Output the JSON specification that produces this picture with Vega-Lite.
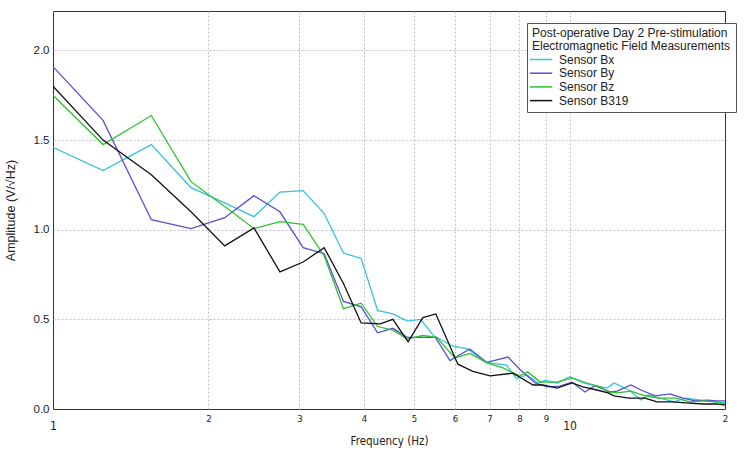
{
  "$schema": "https://vega.github.io/schema/vega-lite/v6.json",
  "width": 672,
  "height": 398,
  "autosize": {"type": "none"},
  "padding": {"left": 53, "top": 11, "right": 25, "bottom": 41},
  "background": "white",
  "config": {
    "font": "Liberation Sans",
    "view": {"stroke": "#333333", "strokeWidth": 1}
  },
  "data": {
    "values": [
      {"sensor": "Sensor Bx", "freq": 1.0, "amp": 1.46},
      {"sensor": "Sensor Bx", "freq": 1.25, "amp": 1.33},
      {"sensor": "Sensor Bx", "freq": 1.55, "amp": 1.475},
      {"sensor": "Sensor Bx", "freq": 1.85, "amp": 1.235},
      {"sensor": "Sensor Bx", "freq": 2.15, "amp": 1.15},
      {"sensor": "Sensor Bx", "freq": 2.45, "amp": 1.073},
      {"sensor": "Sensor Bx", "freq": 2.75, "amp": 1.21},
      {"sensor": "Sensor Bx", "freq": 3.05, "amp": 1.218},
      {"sensor": "Sensor Bx", "freq": 3.35, "amp": 1.09},
      {"sensor": "Sensor Bx", "freq": 3.65, "amp": 0.87},
      {"sensor": "Sensor Bx", "freq": 3.95, "amp": 0.84},
      {"sensor": "Sensor Bx", "freq": 4.25, "amp": 0.55},
      {"sensor": "Sensor Bx", "freq": 4.55, "amp": 0.53},
      {"sensor": "Sensor Bx", "freq": 4.85, "amp": 0.49},
      {"sensor": "Sensor Bx", "freq": 5.15, "amp": 0.5},
      {"sensor": "Sensor Bx", "freq": 5.45, "amp": 0.41},
      {"sensor": "Sensor Bx", "freq": 5.95, "amp": 0.35},
      {"sensor": "Sensor Bx", "freq": 6.35, "amp": 0.335},
      {"sensor": "Sensor Bx", "freq": 6.9, "amp": 0.26},
      {"sensor": "Sensor Bx", "freq": 7.55, "amp": 0.245},
      {"sensor": "Sensor Bx", "freq": 7.9, "amp": 0.17},
      {"sensor": "Sensor Bx", "freq": 8.27, "amp": 0.19},
      {"sensor": "Sensor Bx", "freq": 8.69, "amp": 0.145},
      {"sensor": "Sensor Bx", "freq": 8.97, "amp": 0.16},
      {"sensor": "Sensor Bx", "freq": 9.46, "amp": 0.145},
      {"sensor": "Sensor Bx", "freq": 10.02, "amp": 0.18},
      {"sensor": "Sensor Bx", "freq": 10.62, "amp": 0.145},
      {"sensor": "Sensor Bx", "freq": 11.2, "amp": 0.13},
      {"sensor": "Sensor Bx", "freq": 11.82, "amp": 0.117},
      {"sensor": "Sensor Bx", "freq": 12.19, "amp": 0.145},
      {"sensor": "Sensor Bx", "freq": 13.04, "amp": 0.106},
      {"sensor": "Sensor Bx", "freq": 13.75, "amp": 0.05},
      {"sensor": "Sensor Bx", "freq": 14.19, "amp": 0.078},
      {"sensor": "Sensor Bx", "freq": 14.97, "amp": 0.061},
      {"sensor": "Sensor Bx", "freq": 15.94, "amp": 0.04},
      {"sensor": "Sensor Bx", "freq": 16.81, "amp": 0.061},
      {"sensor": "Sensor Bx", "freq": 17.89, "amp": 0.05},
      {"sensor": "Sensor Bx", "freq": 19.05, "amp": 0.04},
      {"sensor": "Sensor Bx", "freq": 20.0, "amp": 0.034},

      {"sensor": "Sensor By", "freq": 1.0, "amp": 1.91},
      {"sensor": "Sensor By", "freq": 1.25, "amp": 1.61},
      {"sensor": "Sensor By", "freq": 1.55, "amp": 1.056},
      {"sensor": "Sensor By", "freq": 1.85, "amp": 1.006},
      {"sensor": "Sensor By", "freq": 2.15, "amp": 1.067},
      {"sensor": "Sensor By", "freq": 2.45, "amp": 1.19},
      {"sensor": "Sensor By", "freq": 2.75, "amp": 1.1},
      {"sensor": "Sensor By", "freq": 3.05, "amp": 0.9},
      {"sensor": "Sensor By", "freq": 3.35, "amp": 0.866},
      {"sensor": "Sensor By", "freq": 3.65, "amp": 0.6},
      {"sensor": "Sensor By", "freq": 3.95, "amp": 0.57},
      {"sensor": "Sensor By", "freq": 4.25, "amp": 0.425},
      {"sensor": "Sensor By", "freq": 4.55, "amp": 0.45},
      {"sensor": "Sensor By", "freq": 4.85, "amp": 0.4},
      {"sensor": "Sensor By", "freq": 5.2, "amp": 0.4},
      {"sensor": "Sensor By", "freq": 5.5, "amp": 0.4},
      {"sensor": "Sensor By", "freq": 5.87, "amp": 0.27},
      {"sensor": "Sensor By", "freq": 6.41, "amp": 0.335},
      {"sensor": "Sensor By", "freq": 6.92, "amp": 0.26},
      {"sensor": "Sensor By", "freq": 7.6, "amp": 0.29},
      {"sensor": "Sensor By", "freq": 8.02, "amp": 0.22},
      {"sensor": "Sensor By", "freq": 8.58, "amp": 0.145},
      {"sensor": "Sensor By", "freq": 9.05, "amp": 0.123},
      {"sensor": "Sensor By", "freq": 9.58, "amp": 0.128},
      {"sensor": "Sensor By", "freq": 10.11, "amp": 0.15},
      {"sensor": "Sensor By", "freq": 10.71, "amp": 0.095},
      {"sensor": "Sensor By", "freq": 11.2, "amp": 0.13},
      {"sensor": "Sensor By", "freq": 11.98, "amp": 0.095},
      {"sensor": "Sensor By", "freq": 12.36, "amp": 0.1},
      {"sensor": "Sensor By", "freq": 13.15, "amp": 0.134},
      {"sensor": "Sensor By", "freq": 13.75, "amp": 0.106},
      {"sensor": "Sensor By", "freq": 14.64, "amp": 0.073},
      {"sensor": "Sensor By", "freq": 15.65, "amp": 0.084},
      {"sensor": "Sensor By", "freq": 16.59, "amp": 0.061},
      {"sensor": "Sensor By", "freq": 17.5, "amp": 0.045},
      {"sensor": "Sensor By", "freq": 18.46, "amp": 0.05},
      {"sensor": "Sensor By", "freq": 19.31, "amp": 0.045},
      {"sensor": "Sensor By", "freq": 20.0, "amp": 0.045},

      {"sensor": "Sensor Bz", "freq": 1.0, "amp": 1.75},
      {"sensor": "Sensor Bz", "freq": 1.25, "amp": 1.475},
      {"sensor": "Sensor Bz", "freq": 1.55, "amp": 1.637},
      {"sensor": "Sensor Bz", "freq": 1.85, "amp": 1.268},
      {"sensor": "Sensor Bz", "freq": 2.15, "amp": 1.13},
      {"sensor": "Sensor Bz", "freq": 2.45, "amp": 1.006},
      {"sensor": "Sensor Bz", "freq": 2.75, "amp": 1.045},
      {"sensor": "Sensor Bz", "freq": 3.05, "amp": 1.03},
      {"sensor": "Sensor Bz", "freq": 3.35, "amp": 0.855},
      {"sensor": "Sensor Bz", "freq": 3.65, "amp": 0.56},
      {"sensor": "Sensor Bz", "freq": 3.95, "amp": 0.59},
      {"sensor": "Sensor Bz", "freq": 4.25, "amp": 0.46},
      {"sensor": "Sensor Bz", "freq": 4.55, "amp": 0.44},
      {"sensor": "Sensor Bz", "freq": 4.85, "amp": 0.39},
      {"sensor": "Sensor Bz", "freq": 5.2, "amp": 0.41},
      {"sensor": "Sensor Bz", "freq": 5.53, "amp": 0.4},
      {"sensor": "Sensor Bz", "freq": 6.0, "amp": 0.285},
      {"sensor": "Sensor Bz", "freq": 6.41, "amp": 0.31},
      {"sensor": "Sensor Bz", "freq": 6.92, "amp": 0.257},
      {"sensor": "Sensor Bz", "freq": 7.43, "amp": 0.23},
      {"sensor": "Sensor Bz", "freq": 7.8, "amp": 0.2},
      {"sensor": "Sensor Bz", "freq": 8.02, "amp": 0.185},
      {"sensor": "Sensor Bz", "freq": 8.3, "amp": 0.207},
      {"sensor": "Sensor Bz", "freq": 8.77, "amp": 0.15},
      {"sensor": "Sensor Bz", "freq": 9.46, "amp": 0.15},
      {"sensor": "Sensor Bz", "freq": 10.11, "amp": 0.173},
      {"sensor": "Sensor Bz", "freq": 10.81, "amp": 0.145},
      {"sensor": "Sensor Bz", "freq": 11.46, "amp": 0.123},
      {"sensor": "Sensor Bz", "freq": 11.87, "amp": 0.095},
      {"sensor": "Sensor Bz", "freq": 12.36, "amp": 0.09},
      {"sensor": "Sensor Bz", "freq": 13.15, "amp": 0.1},
      {"sensor": "Sensor Bz", "freq": 14.0, "amp": 0.073},
      {"sensor": "Sensor Bz", "freq": 14.91, "amp": 0.061},
      {"sensor": "Sensor Bz", "freq": 16.08, "amp": 0.061},
      {"sensor": "Sensor Bz", "freq": 17.12, "amp": 0.04},
      {"sensor": "Sensor Bz", "freq": 18.14, "amp": 0.045},
      {"sensor": "Sensor Bz", "freq": 19.31, "amp": 0.04},
      {"sensor": "Sensor Bz", "freq": 20.0, "amp": 0.028},

      {"sensor": "Sensor B319", "freq": 1.0, "amp": 1.8},
      {"sensor": "Sensor B319", "freq": 1.25, "amp": 1.5},
      {"sensor": "Sensor B319", "freq": 1.55, "amp": 1.307},
      {"sensor": "Sensor B319", "freq": 1.85, "amp": 1.1},
      {"sensor": "Sensor B319", "freq": 2.15, "amp": 0.91},
      {"sensor": "Sensor B319", "freq": 2.45, "amp": 1.01},
      {"sensor": "Sensor B319", "freq": 2.75, "amp": 0.765},
      {"sensor": "Sensor B319", "freq": 3.05, "amp": 0.82},
      {"sensor": "Sensor B319", "freq": 3.35, "amp": 0.9},
      {"sensor": "Sensor B319", "freq": 3.65, "amp": 0.7},
      {"sensor": "Sensor B319", "freq": 3.95, "amp": 0.48},
      {"sensor": "Sensor B319", "freq": 4.3, "amp": 0.475},
      {"sensor": "Sensor B319", "freq": 4.55, "amp": 0.5},
      {"sensor": "Sensor B319", "freq": 4.87, "amp": 0.375},
      {"sensor": "Sensor B319", "freq": 5.2, "amp": 0.51},
      {"sensor": "Sensor B319", "freq": 5.51, "amp": 0.53},
      {"sensor": "Sensor B319", "freq": 6.08, "amp": 0.25},
      {"sensor": "Sensor B319", "freq": 6.5, "amp": 0.21},
      {"sensor": "Sensor B319", "freq": 7.02, "amp": 0.185},
      {"sensor": "Sensor B319", "freq": 7.77, "amp": 0.2},
      {"sensor": "Sensor B319", "freq": 8.5, "amp": 0.134},
      {"sensor": "Sensor B319", "freq": 8.88, "amp": 0.134},
      {"sensor": "Sensor B319", "freq": 9.46, "amp": 0.117},
      {"sensor": "Sensor B319", "freq": 10.11, "amp": 0.145},
      {"sensor": "Sensor B319", "freq": 10.62, "amp": 0.123},
      {"sensor": "Sensor B319", "freq": 11.3, "amp": 0.106},
      {"sensor": "Sensor B319", "freq": 11.87, "amp": 0.09},
      {"sensor": "Sensor B319", "freq": 12.19, "amp": 0.073},
      {"sensor": "Sensor B319", "freq": 13.04, "amp": 0.061},
      {"sensor": "Sensor B319", "freq": 14.0, "amp": 0.061},
      {"sensor": "Sensor B319", "freq": 14.77, "amp": 0.04},
      {"sensor": "Sensor B319", "freq": 15.79, "amp": 0.04},
      {"sensor": "Sensor B319", "freq": 16.81, "amp": 0.034},
      {"sensor": "Sensor B319", "freq": 18.14, "amp": 0.028},
      {"sensor": "Sensor B319", "freq": 19.31, "amp": 0.028},
      {"sensor": "Sensor B319", "freq": 20.0, "amp": 0.022}
    ]
  },
  "mark": {"type": "line", "strokeWidth": 1.3, "clip": true},
  "encoding": {
    "x": {
      "field": "freq",
      "type": "quantitative",
      "scale": {"type": "log", "domain": [1, 20], "nice": false},
      "axis": {
        "title": "Frequency (Hz)",
        "titleFont": "Liberation Sans Narrow, DejaVu Sans Condensed, Liberation Sans",
        "titleFontSize": 11.5,
        "titleFontWeight": "normal",
        "titleColor": "#222222",
        "titlePadding": 4,
        "values": [1, 2, 3, 4, 5, 6, 7, 8, 9, 10, 20],
        "labelExpr": "datum.value >= 20 ? '2' : datum.label",
        "labelFont": "Liberation Sans Narrow, DejaVu Sans Condensed, Liberation Sans",
        "labelFontSize": {"condition": {"test": "datum.value == 1 || datum.value == 10", "value": 12}, "value": 9.5},
        "labelPadding": {"condition": {"test": "datum.value == 1 || datum.value == 10", "value": 11}, "value": 4},
        "labelColor": "#222222",
        "labelFlush": false,
        "labelOverlap": false,
        "labelBound": false,
        "ticks": false,
        "domain": false,
        "grid": true,
        "gridColor": "#bcbccc",
        "gridDash": [2, 2],
        "gridOpacity": {"condition": {"test": "datum.value == 1 || datum.value == 20", "value": 0}, "value": 1}
      }
    },
    "y": {
      "field": "amp",
      "type": "quantitative",
      "scale": {"domain": [0, 2.22], "nice": false, "zero": true},
      "axis": {
        "title": "Amplitude (V/√Hz)",
        "titleFontSize": 12.5,
        "titleFontWeight": "normal",
        "titleColor": "#222222",
        "titlePadding": 16,
        "values": [0, 0.5, 1, 1.5, 2],
        "format": ".1f",
        "labelFontSize": 11.5,
        "labelPadding": 4,
        "labelColor": "#222222",
        "ticks": false,
        "domain": false,
        "grid": true,
        "gridColor": "#bcbccc",
        "gridDash": [2, 2],
        "gridOpacity": {"condition": {"test": "datum.value == 0", "value": 0}, "value": 1}
      }
    },
    "color": {
      "field": "sensor",
      "type": "nominal",
      "sort": ["Sensor Bx", "Sensor By", "Sensor Bz", "Sensor B319"],
      "scale": {
        "domain": ["Sensor Bx", "Sensor By", "Sensor Bz", "Sensor B319"],
        "range": ["#33c3dc", "#5650d6", "#2ec22e", "#111111"]
      },
      "legend": {
        "title": ["Post-operative Day 2 Pre-stimulation", "Electromagnetic Field Measurements"],
        "orient": "none",
        "legendX": 474,
        "legendY": 12,
        "fillColor": "white",
        "strokeColor": "#555555",
        "padding": 5,
        "titleFontSize": 12,
        "titleFontWeight": "normal",
        "titleColor": "#222222",
        "titleLineHeight": 12.5,
        "titlePadding": 0,
        "titleLimit": 400,
        "labelLimit": 300,
        "labelFontSize": 12,
        "labelColor": "#222222",
        "labelOffset": 13,
        "rowPadding": 0.7,
        "symbolType": "M-1.5,0H2.2",
        "symbolSize": 144,
        "symbolStrokeWidth": 1.5
      }
    }
  }
}
